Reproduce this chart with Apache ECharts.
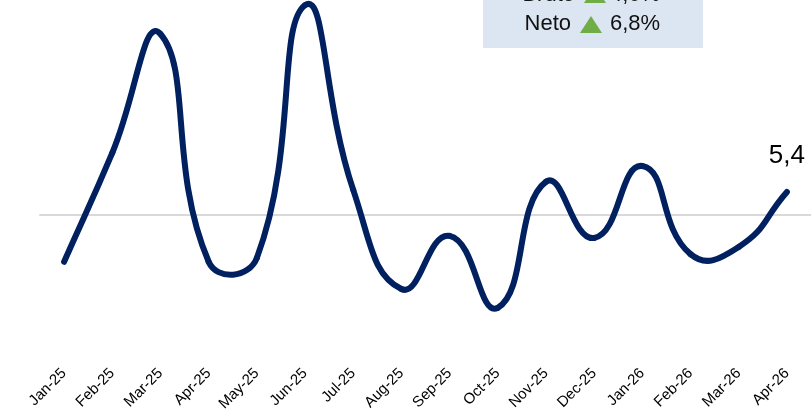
<!DOCTYPE html>
<html>
<head>
<meta charset="utf-8">
<script src="https://cdn.jsdelivr.net/npm/echarts@6/dist/echarts.min.js"></script>
<style>
html,body{margin:0;padding:0;background:#fff;}
#c{width:811px;height:414px;}
</style>
</head>
<body>
<div id="c"></div>
<script>
const categories = ['Jan-25','Feb-25','Mar-25','Apr-25','May-25','Jun-25','Jul-25','Aug-25','Sep-25','Oct-25','Nov-25','Dec-25','Jan-26','Feb-26','Mar-26','Apr-26'];
const values = [-11.0, 14.6, 42.5, -11.0, -10.1, 49.3, 5.9, -17.4, -4.9, -21.8, 7.8, -5.4, 11.5, -9.2, -7.5, 5.4];
const boxLabels = ['Bruto', 'Neto'];
const boxValues = ['4,6%', '6,8%'];

const FONT = '"Liberation Sans", Arial, sans-serif';
const LINE = '#002060';
const SMOOTH = 0.5;
const chart = echarts.init(document.getElementById('c'), null, {renderer: 'canvas'});

function ctrl(prev, cur, next) {
  const vx = next[0] - prev[0], vy = next[1] - prev[1];
  const d0 = Math.hypot(cur[0] - prev[0], cur[1] - prev[1]);
  const d1 = Math.hypot(next[0] - cur[0], next[1] - cur[1]);
  const r = (d0 + d1) > 0 ? d1 / (d0 + d1) : 0.5;
  return {
    after: [cur[0] + vx * SMOOTH * r, cur[1] + vy * SMOOTH * r],
    before: [cur[0] - vx * SMOOTH * (1 - r), cur[1] - vy * SMOOTH * (1 - r)]
  };
}

function renderItem(params, api) {
  const i = params.dataIndex;
  const n = values.length;
  const P = k => api.coord([k, values[Math.max(0, Math.min(n - 1, k))]]);
  const children = [];
  if (i < n - 1) {
    const p0 = i > 0 ? P(i - 1) : P(i);
    const p1 = P(i), p2 = P(i + 1);
    const p3 = i + 2 < n ? P(i + 2) : P(i + 1);
    const c1 = ctrl(p0, p1, p2).after;
    const c2 = ctrl(p1, p2, p3).before;
    children.push({
      type: 'bezierCurve',
      shape: {x1: p1[0], y1: p1[1], x2: p2[0], y2: p2[1], cpx1: c1[0], cpy1: c1[1], cpx2: c2[0], cpy2: c2[1]},
      style: {stroke: LINE, lineWidth: 6, fill: null, lineCap: 'round', lineJoin: 'round'}
    });
  } else {
    const p = P(i);
    children.push({
      type: 'text',
      x: p[0], y: p[1] - 36,
      style: {text: String(values[i]).replace('.', ','), font: '26px ' + FONT, fill: '#000',
        align: 'center', verticalAlign: 'middle'}
    });
  }
  return {type: 'group', children: children};
}

chart.setOption({
  animation: false,
  backgroundColor: '#ffffff',
  grid: {left: 40, right: 0, top: 0, bottom: 56, containLabel: false},
  xAxis: [
    {
      type: 'category', data: categories, boundaryGap: true, position: 'bottom',
      axisLine: {show: true, onZero: true, lineStyle: {color: '#d9d9d9', width: 2}},
      axisTick: {show: false}, axisLabel: {show: false}, splitLine: {show: false}
    },
    {
      type: 'category', data: categories, boundaryGap: true, position: 'bottom',
      axisLine: {show: false, onZero: false}, axisTick: {show: false}, splitLine: {show: false},
      axisLabel: {show: true, rotate: 45, interval: 0, margin: 13, fontSize: 15, color: '#000', fontFamily: FONT}
    }
  ],
  yAxis: {type: 'value', min: -33.6, max: 50.5, show: false, splitLine: {show: false}},
  series: [{
    type: 'custom', xAxisIndex: 0, yAxisIndex: 0,
    data: values.map((v, i) => [i, v]),
    encode: {x: 0, y: 1},
    renderItem: renderItem,
    clip: false,
    z: 3
  }],
  graphic: [
    {type: 'rect', shape: {x: 483, y: -30, width: 220, height: 78}, style: {fill: '#dce6f2'}, z: 10},
    {type: 'text', x: 575, y: -5, z: 11, style: {text: boxLabels[0], font: '22px ' + FONT, fill: '#111', align: 'right', verticalAlign: 'middle'}},
    {type: 'polygon', z: 11, shape: {points: [[584, 3], [606, 3], [595, -14]]}, style: {fill: '#70ad47'}},
    {type: 'text', x: 610, y: -5, z: 11, style: {text: boxValues[0], font: '22px ' + FONT, fill: '#111', align: 'left', verticalAlign: 'middle'}},
    {type: 'text', x: 571, y: 24, z: 11, style: {text: boxLabels[1], font: '22px ' + FONT, fill: '#111', align: 'right', verticalAlign: 'middle'}},
    {type: 'polygon', z: 11, shape: {points: [[580, 33], [602, 33], [591, 16]]}, style: {fill: '#70ad47'}},
    {type: 'text', x: 610, y: 24, z: 11, style: {text: boxValues[1], font: '22px ' + FONT, fill: '#111', align: 'left', verticalAlign: 'middle'}}
  ]
});
</script>
</body>
</html>
